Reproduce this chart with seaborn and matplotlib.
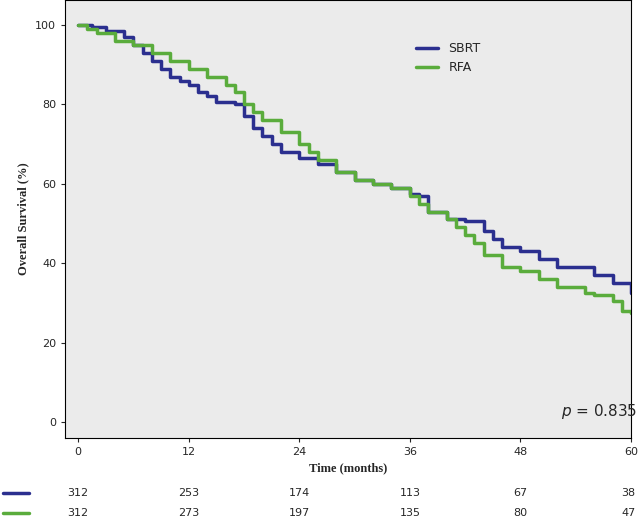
import numpy as np
import pandas as pd
import matplotlib.pyplot as plt
import seaborn as sns

# --- data ---
sbrt_t = [0, 1.5, 3, 5, 6, 7, 8, 9, 10, 11, 12, 13, 14, 15, 17, 18, 19, 20, 21, 22, 24, 26, 28, 30, 32, 34, 36, 37, 38, 40, 42, 44, 45, 46, 48, 50, 52, 55, 56, 58, 60]
sbrt_s = [100, 99.5, 98.5, 97, 95, 93, 91, 89, 87, 86, 85, 83, 82, 80.5, 80, 77, 74, 72, 70, 68, 66.5, 65, 63, 61, 60, 59, 57.5, 57, 53, 51, 50.5, 48, 46, 44, 43, 41, 39, 39, 37, 35, 32.5]
rfa_t = [0, 1, 2, 4, 6, 8, 10, 12, 14, 16, 17, 18, 19, 20, 22, 24, 25, 26, 28, 30, 32, 34, 36, 37, 38, 40, 41, 42, 43, 44, 46, 48, 50, 52, 55, 56, 58, 59, 60]
rfa_s = [100, 99, 98, 96, 95, 93, 91, 89, 87, 85, 83, 80, 78, 76, 73, 70, 68, 66, 63, 61, 60, 59, 57, 55, 53, 51, 49, 47, 45, 42, 39, 38, 36, 34, 32.5, 32, 30.5, 28, 27.5]
risk_times = [0, 12, 24, 36, 48, 60]
sbrt_risk = [312, 253, 174, 113, 67, 38]
rfa_risk = [312, 273, 197, 135, 80, 47]

df = pd.concat([
    pd.DataFrame({'Time': sbrt_t, 'Survival': sbrt_s, 'Group': 'SBRT'}),
    pd.DataFrame({'Time': rfa_t, 'Survival': rfa_s, 'Group': 'RFA'}),
])

sns.set_style('white')
fig = plt.figure(figsize=(6.4, 5.23), dpi=100)
ax = fig.add_axes([0.102, 0.163, 0.884, 0.837])
ax.set_facecolor('#ebebeb')
colors = {'SBRT': '#2b2f8f', 'RFA': '#5aac3c'}
sns.lineplot(data=df, x='Time', y='Survival', hue='Group', palette=colors,
             drawstyle='steps-post', linewidth=2.5, ax=ax)

ax.set_xlim(-1.4, 60)
ax.set_ylim(-4, 106.3)
ax.set_xticks(risk_times)
ax.set_yticks([0, 20, 40, 60, 80, 100])
ax.tick_params(labelsize=8, length=3, direction='out', bottom=True, left=True)
ax.set_xlabel('Time (months)', fontsize=9, fontweight='bold', family='Liberation Serif')
ax.set_ylabel('Overall Survival (%)', fontsize=9, fontweight='bold', family='Liberation Serif')
for s in ax.spines.values():
    s.set_color('black')
    s.set_linewidth(0.8)
ax.legend(loc='upper left', bbox_to_anchor=(0.6, 0.93), frameon=False, fontsize=9, handlelength=1.8)
ax.text(56.5, 1.5, r'$p$ = 0.835', fontsize=11, ha='center')

# risk table
for row, (vals, g) in enumerate([(sbrt_risk, 'SBRT'), (rfa_risk, 'RFA')]):
    yfig = 0.057 - row * 0.037
    fig.add_artist(plt.Line2D([0.005, 0.045], [yfig, yfig], color=colors[g], lw=2.5))
    for t, v in zip(risk_times, vals):
        xd = ax.transData.transform((t, 0))[0]
        xf = fig.transFigure.inverted().transform((xd, 0))[0]
        fig.text(min(xf, 0.982), yfig, str(v), fontsize=8, ha='center', va='center')

fig.savefig('out.png', dpi=100)
